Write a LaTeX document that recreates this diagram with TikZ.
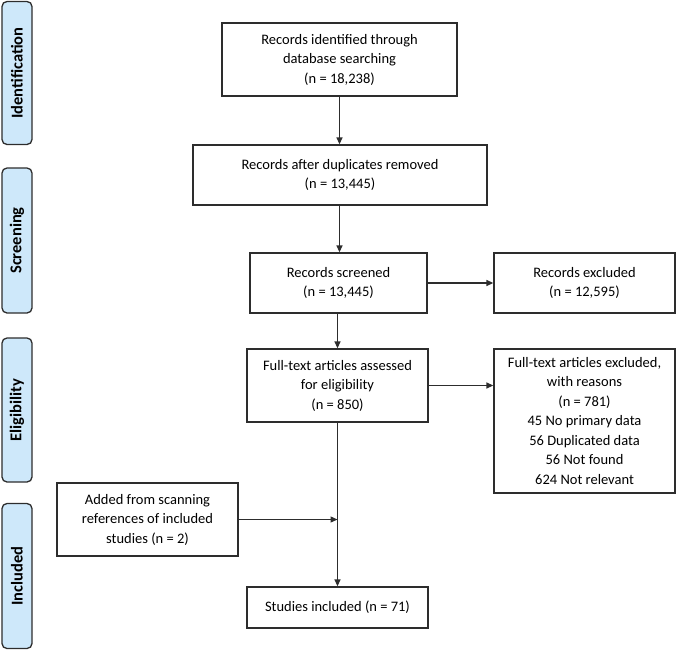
\documentclass[tikz,border=0pt]{standalone}
\usepackage{fontspec}
\setmainfont{Carlito}
\usetikzlibrary{arrows.meta}
\definecolor{sidefill}{RGB}{206,232,250}
\definecolor{linecol}{RGB}{45,45,45}
\tikzset{
  box/.style={draw=linecol, line width=1.3pt, fill=white, align=center, inner sep=2pt,
    font=\fontsize{14.5}{19.5}\selectfont, text=black},
  side/.style={draw=linecol, line width=1.3pt, fill=sidefill, rounded corners=5pt,
    rotate=90, minimum height=30pt, inner sep=0pt, font=\bfseries\fontsize{16.5}{18}\selectfont},
  arr/.style={draw=linecol, line width=1.3pt, -{Triangle[length=7pt,width=6pt]}},
  ln/.style={draw=linecol, line width=1.3pt}
}
\begin{document}
\begin{tikzpicture}[x=1pt,y=-1pt]
\useasboundingbox (0,0) rectangle (676,651);
% side labels
\node[side, minimum width=143pt] (sid) at (17,73) {Identification};
\node[side, minimum width=145pt] (sscr) at (17,240.5) {Screening};
\node[side, minimum width=144pt] (selig) at (17,410) {Eligibility};
\node[side, minimum width=145pt] (sinc) at (17,576) {Included};
% boxes
\node[box, minimum width=235pt, minimum height=73pt] (b1) at (339.5,59.5) {Records identified through\\database searching\\(n = 18,238)};
\node[box, minimum width=294pt, minimum height=60pt] (b2) at (340,175) {Records after duplicates removed\\(n = 13,445)};
\node[box, minimum width=177pt, minimum height=60pt] (b3) at (338.5,283) {Records screened\\(n = 13,445)};
\node[box, minimum width=181pt, minimum height=60pt] (ex) at (584.5,283) {Records excluded\\(n = 12,595)};
\node[box, minimum width=181pt, minimum height=73pt] (b4) at (337.5,385.5) {Full-text articles assessed\\for eligibility\\(n = 850)};
\node[box, minimum width=181pt, minimum height=144pt] (rs) at (584.5,421) {Full-text articles excluded,\\with reasons\\(n = 781)\\45 No primary data\\56 Duplicated data\\56 Not found\\624 Not relevant};
\node[box, minimum width=181pt, minimum height=73pt] (ad) at (147.5,519.5) {Added from scanning\\references of included\\studies (n = 2)};
\node[box, minimum width=181pt, minimum height=41pt] (st) at (337.5,607.5) {Studies included (n = 71)};
% connectors
\draw[arr] (b1.south -| 339.5,0) -- (b2.north -| 339.5,0);
\draw[arr] (b2.south -| 339.5,0) -- (b3.north -| 339.5,0);
\draw[arr] (b3.east) -- (ex.west);
\draw[arr] (b3.south -| 337.5,0) -- (b4.north -| 337.5,0);
\draw[arr] (b4.east) -- (b4.east -| rs.west);
\draw[arr] (b4.south) -- (st.north);
\draw[arr] (ad.east) -- (ad.east -| b4.south);
\end{tikzpicture}
\end{document}
